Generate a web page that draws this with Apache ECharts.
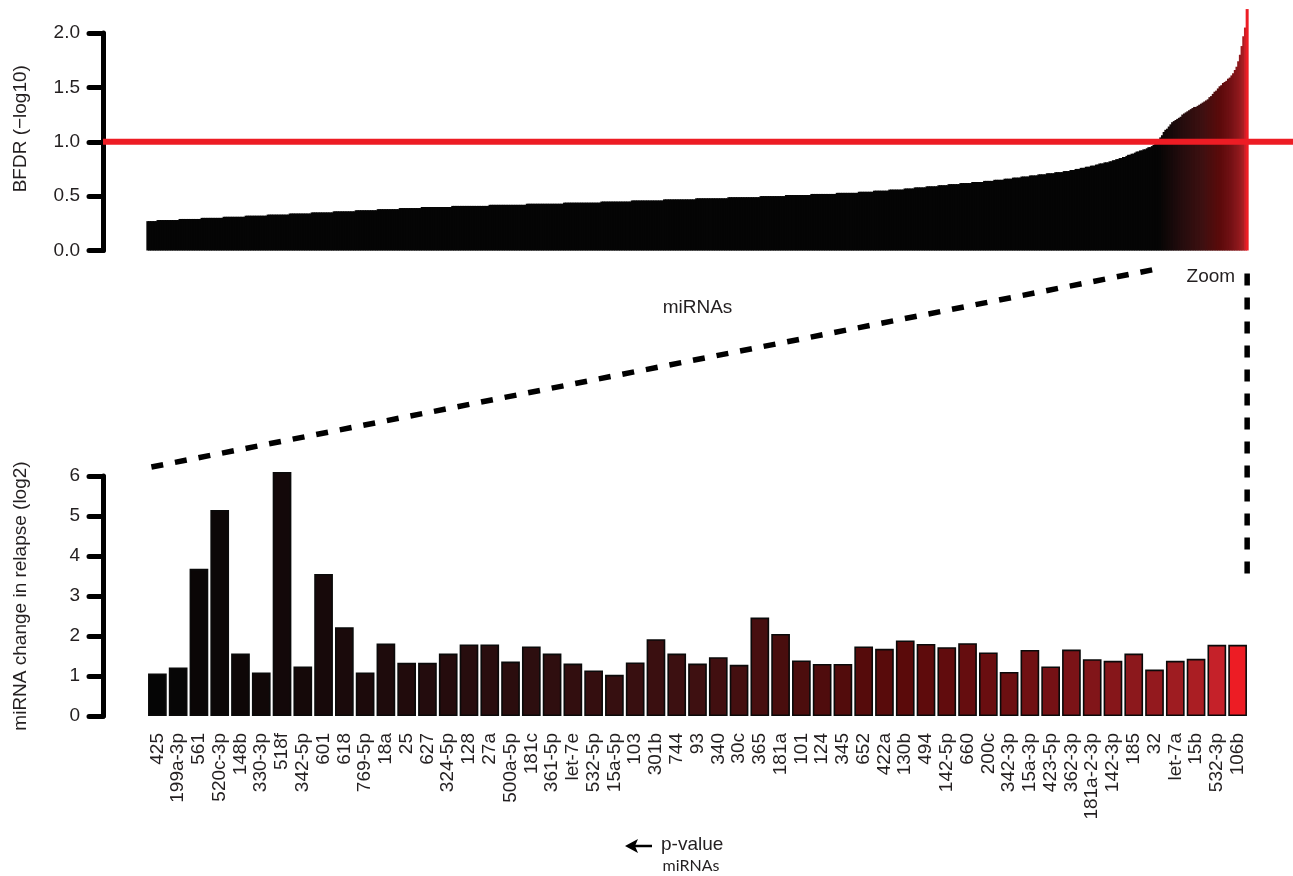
<!DOCTYPE html>
<html>
<head>
<meta charset="utf-8">
<script src="https://cdn.jsdelivr.net/npm/echarts@6/dist/echarts.min.js"></script>
<style>
  html, body { margin: 0; padding: 0; background: #fff; }
  #chart { width: 1293px; height: 876px; }
</style>
</head>
<body>
<div id="chart"></div>
<script>
// top panel: BFDR (-log10) of every miRNA, sorted ascending
const bfdrNotSig = [
  0.27,0.27,0.27,0.27,0.27,0.27,
  0.28,0.28,0.28,0.28,0.28,0.28,0.28,0.28,0.28,0.28,0.28,0.28,0.28,
  0.29,0.29,0.29,0.29,0.29,0.29,0.29,0.29,0.29,0.29,0.29,0.29,0.29,
  0.30,0.30,0.30,0.30,0.30,0.30,0.30,0.30,0.30,0.30,0.30,0.30,0.30,
  0.31,0.31,0.31,0.31,0.31,0.31,0.31,0.31,0.31,0.31,0.31,0.31,0.31,
  0.32,0.32,0.32,0.32,0.32,0.32,0.32,0.32,0.32,0.32,0.32,0.32,0.32,
  0.33,0.33,0.33,0.33,0.33,0.33,0.33,0.33,0.33,0.33,0.33,0.33,0.33,
  0.34,0.34,0.34,0.34,0.34,0.34,0.34,0.34,0.34,0.34,0.34,0.34,0.34,
  0.35,0.35,0.35,0.35,0.35,0.35,0.35,0.35,0.35,0.35,0.35,0.35,0.35,
  0.36,0.36,0.36,0.36,0.36,0.36,0.36,0.36,0.36,0.36,0.36,0.36,0.36,
  0.37,0.37,0.37,0.37,0.37,0.37,0.37,0.37,0.37,0.37,0.37,0.37,0.37,
  0.38,0.38,0.38,0.38,0.38,0.38,0.38,0.38,0.38,0.38,0.38,0.38,0.38,
  0.39,0.39,0.39,0.39,0.39,0.39,0.39,0.39,0.39,0.39,0.39,0.39,0.39,
  0.40,0.40,0.40,0.40,0.40,0.40,0.40,0.40,0.40,0.40,0.40,0.40,0.40,0.40,0.40,0.40,0.40,0.40,
  0.41,0.41,0.41,0.41,0.41,0.41,0.41,0.41,0.41,0.41,0.41,0.41,0.41,0.41,0.41,0.41,0.41,0.41,0.41,0.41,0.41,0.41,
  0.42,0.42,0.42,0.42,0.42,0.42,0.42,0.42,0.42,0.42,0.42,0.42,0.42,0.42,0.42,0.42,0.42,0.42,0.42,0.42,0.42,0.42,
  0.43,0.43,0.43,0.43,0.43,0.43,0.43,0.43,0.43,0.43,0.43,0.43,0.43,0.43,0.43,0.43,0.43,0.43,0.43,0.43,0.43,0.43,
  0.44,0.44,0.44,0.44,0.44,0.44,0.44,0.44,0.44,0.44,0.44,0.44,0.44,0.44,0.44,0.44,0.44,0.44,0.44,0.44,0.44,0.44,
  0.45,0.45,0.45,0.45,0.45,0.45,0.45,0.45,0.45,0.45,0.45,0.45,0.45,0.45,0.45,0.45,0.45,0.45,
  0.46,0.46,0.46,0.46,0.46,0.46,0.46,0.46,0.46,0.46,0.46,0.46,0.46,0.46,0.46,0.46,0.46,0.46,0.46,
  0.47,0.47,0.47,0.47,0.47,0.47,0.47,0.47,0.47,0.47,0.47,0.47,0.47,0.47,0.47,0.47,0.47,0.47,0.47,
  0.48,0.48,0.48,0.48,0.48,0.48,0.48,0.48,0.48,0.48,0.48,0.48,0.48,0.48,0.48,0.48,0.48,0.48,0.48,
  0.49,0.49,0.49,0.49,0.49,0.49,0.49,0.49,0.49,0.49,0.49,0.49,0.49,0.49,0.49,0.49,0.49,0.49,0.49,
  0.50,0.50,0.50,0.50,0.50,0.50,0.50,0.50,0.50,0.50,0.50,0.50,0.50,0.50,0.50,
  0.51,0.51,0.51,0.51,0.51,0.51,0.51,0.51,0.51,0.51,0.51,0.51,0.51,0.51,0.51,
  0.52,0.52,0.52,0.52,0.52,0.52,0.52,0.52,0.52,0.52,0.52,0.52,0.52,0.52,0.52,
  0.53,0.53,0.53,0.53,0.53,0.53,0.53,0.53,0.53,0.53,0.53,0.53,0.53,
  0.54,0.54,0.54,0.54,0.54,0.54,0.54,0.54,0.54,
  0.55,0.55,0.55,0.55,0.55,0.55,0.55,0.55,0.55,
  0.56,0.56,0.56,0.56,0.56,0.56,0.56,0.56,0.56,
  0.57,0.57,0.57,0.57,0.57,0.57,
  0.58,0.58,0.58,0.58,0.58,0.58,0.58,
  0.59,0.59,0.59,0.59,0.59,0.59,0.59,
  0.60,0.60,0.60,0.60,0.60,0.60,
  0.61,0.61,0.61,0.61,0.61,0.61,0.61,
  0.62,0.62,0.62,0.62,0.62,0.62,0.62,
  0.63,0.63,0.63,0.63,0.63,0.63,0.63,
  0.64,0.64,0.64,0.64,0.64,0.64,
  0.65,0.65,0.65,0.65,0.65,0.65,
  0.66,0.66,0.66,0.66,0.66,
  0.67,0.67,0.67,0.67,0.67,
  0.68,0.68,0.68,0.68,0.68,
  0.69,0.69,0.69,0.69,0.69,
  0.70,0.70,0.70,0.70,0.70,
  0.71,0.71,0.71,0.71,0.71,
  0.72,0.72,0.72,0.72,0.72,
  0.73,0.73,0.73,0.73,
  0.74,0.74,0.74,
  0.75,0.75,0.75,
  0.76,0.76,0.76,
  0.77,0.77,0.77,
  0.78,0.78,0.78,
  0.79,0.79,
  0.80,0.80,0.80,
  0.81,0.81,0.81,0.82,0.82,0.83,0.83,0.84,0.84,0.85,0.85,0.86,0.86,0.87,0.88,0.88,
  0.89,0.89,0.90,0.91,0.91,0.92,0.92,0.93,0.93,0.94,0.95,0.95,0.96,0.97,0.98,0.99
]
// the 53 miRNAs above the cut-off (same order as the zoomed panel)
const bfdrSig = [
  1.01,1.04,1.06,1.09,1.11,1.12,1.14,1.16,1.18,1.19,
  1.20,1.21,1.22,1.23,1.25,1.26,1.27,1.28,1.29,1.30,
  1.31,1.32,1.32,1.33,1.34,1.35,1.36,1.37,1.38,1.39,
  1.41,1.42,1.44,1.46,1.47,1.49,1.51,1.52,1.54,1.55,
  1.56,1.58,1.59,1.61,1.63,1.66,1.69,1.74,1.80,1.88,
  1.97,2.05,2.22
]
const bfdrCutoff = 1.0

// bottom panel: zoom on significant miRNAs
const mirnaNames = [
  '425','199a-3p','561','520c-3p','148b','330-3p','518f','342-5p','601','618',
  '769-5p','18a','25','627','324-5p','128','27a','500a-5p','181c','361-5p',
  'let-7e','532-5p','15a-5p','103','301b','744','93','340','30c','365',
  '181a','101','124','345','652','422a','130b','494','142-5p','660',
  '200c','342-3p','15a-3p','423-5p','362-3p','181a-2-3p','142-3p','185','32','let-7a',
  '15b','532-3p','106b'
]
const log2Change = [
  1.06,1.21,3.68,5.15,1.56,1.09,6.10,1.24,3.55,2.22,
  1.09,1.81,1.33,1.33,1.56,1.79,1.79,1.36,1.74,1.56,
  1.31,1.14,1.03,1.34,1.92,1.56,1.31,1.47,1.28,2.46,
  2.05,1.39,1.30,1.30,1.74,1.68,1.89,1.80,1.72,1.82,
  1.59,1.10,1.65,1.24,1.66,1.42,1.38,1.56,1.16,1.38,
  1.43,1.78,1.78
]

const font = '"Liberation Sans", Arial, Helvetica, sans-serif'
const ink = '#231f20'
const black = '#050505'

// black -> dark red -> red ramp along the significant miRNAs
const rampStops = [
  [0, [5, 5, 5]], [0.25, [35, 12, 13]], [0.5, [62, 16, 17]], [0.69, [90, 10, 10]],
  [0.81, [112, 16, 19]], [0.92, [145, 25, 30]], [0.96, [168, 30, 35]], [0.98, [195, 33, 41]],
  [1, [237, 28, 36]]
]
const rampColor = t => {
  for (let k = 1; k < rampStops.length; k++) {
    const [t0, c0] = rampStops[k - 1]
    const [t1, c1] = rampStops[k]
    if (t <= t1) {
      const f = (t - t0) / (t1 - t0)
      return 'rgb(' + c0.map((c, j) => Math.round(c + (c1[j] - c) * f)).join(',') + ')'
    }
  }
  return 'rgb(237,28,36)'
}
const sigColors = bfdrSig.map((_, i) => rampColor(i / (bfdrSig.length - 1)))

const topData = bfdrNotSig
  .map(v => ({ value: v, itemStyle: { color: black } }))
  .concat(bfdrSig.map((v, i) => ({ value: v, itemStyle: { color: sigColors[i] } })))
const topCats = topData.map((_, i) => String(i + 1))

const lowData = log2Change.map((v, i) => ({ value: v, itemStyle: { color: sigColors[i] } }))

const yAxisBase = {
  type: 'value',
  offset: 44,
  nameLocation: 'middle',
  nameGap: 73,
  nameTextStyle: { fontFamily: font, fontSize: 19, color: ink },
  axisLine: { show: true, lineStyle: { color: '#000', width: 5, cap: 'round' } },
  axisTick: { show: true, length: 14, lineStyle: { color: '#000', width: 5, cap: 'round' } },
  axisLabel: { fontFamily: font, fontSize: 19, color: ink, margin: 23 },
  splitLine: { show: false }
}

const chart = echarts.init(document.getElementById('chart'), null, { renderer: 'canvas' })

chart.setOption({
  animation: false,
  backgroundColor: '#fff',
  grid: [
    { left: 147, right: 45, top: 33, height: 217.5 },
    { left: 147, right: 45, top: 476, height: 240 }
  ],
  xAxis: [
    {
      type: 'category', gridIndex: 0, data: topCats,
      name: 'miRNAs', nameLocation: 'middle', nameGap: 48,
      nameTextStyle: { fontFamily: font, fontSize: 19, color: ink },
      axisLine: { show: false }, axisTick: { show: false }, axisLabel: { show: false }
    },
    {
      type: 'category', gridIndex: 1, data: mirnaNames,
      axisLine: { show: false }, axisTick: { show: false },
      axisLabel: { interval: 0, rotate: 90, margin: 17, fontFamily: font, fontSize: 19, color: ink }
    }
  ],
  yAxis: [
    Object.assign({}, yAxisBase, {
      gridIndex: 0, min: 0, max: 2, interval: 0.5,
      name: 'BFDR (\u2212log10)',
      nameTextStyle: Object.assign({}, yAxisBase.nameTextStyle, { padding: [0, 0, 0, 26] }),
      axisLabel: Object.assign({}, yAxisBase.axisLabel, { formatter: v => v.toFixed(1) })
    }),
    Object.assign({}, yAxisBase, {
      gridIndex: 1, min: 0, max: 6, interval: 1,
      name: 'miRNA change in relapse (log2)'
    })
  ],
  series: [
    {
      // bars a little wider than their band so neighbours overlap and leave no seams
      type: 'bar', xAxisIndex: 0, yAxisIndex: 0, data: topData,
      barWidth: 3, clip: false
    },
    {
      type: 'bar', xAxisIndex: 1, yAxisIndex: 1, data: lowData,
      barCategoryGap: '10%', clip: false,
      itemStyle: { borderColor: '#0a0a0a', borderWidth: 1.6 }
    }
  ]
})

// annotations placed from the axes' own scales
const cutY = chart.convertToPixel({ yAxisIndex: 0 }, bfdrCutoff)
const topBase = chart.convertToPixel({ yAxisIndex: 0 }, 0)
const zoomStartX = chart.convertToPixel({ xAxisIndex: 0 }, bfdrNotSig.length)
const zoomEndX = chart.convertToPixel({ xAxisIndex: 0 }, topData.length - 1)
const lowTop = chart.convertToPixel({ yAxisIndex: 1 }, 6)
const lowLeftX = chart.convertToPixel({ xAxisIndex: 1 }, 0) - 6
const dash = { stroke: '#000', lineWidth: 5.5, lineDash: [12, 12] }

chart.setOption({
  graphic: [
    { type: 'line', z: 100, shape: { x1: 103, y1: cutY, x2: 1293, y2: cutY },
      style: { stroke: '#ed1c24', lineWidth: 6 } },
    { type: 'line', z: 50, shape: { x1: lowLeftX, y1: lowTop - 9, x2: zoomStartX, y2: topBase + 18 }, style: dash },
    { type: 'line', z: 50, shape: { x1: zoomEndX, y1: topBase + 23, x2: zoomEndX, y2: 583 }, style: dash },
    { type: 'text', z: 50, x: zoomEndX - 12, y: 277,
      style: { text: 'Zoom', font: '19px ' + font, fill: ink, align: 'right', verticalAlign: 'middle' } },
    { type: 'line', z: 50, shape: { x1: 632, y1: 846, x2: 652, y2: 846 },
      style: { stroke: '#000', lineWidth: 2.5 } },
    { type: 'polygon', z: 50, shape: { points: [[625, 846], [638, 839], [635, 846], [638, 853]] },
      style: { fill: '#000' } },
    { type: 'text', z: 50, x: 661, y: 845,
      style: { text: 'p-value', font: '19px ' + font, fill: ink, align: 'left', verticalAlign: 'middle' } },
    { type: 'text', z: 50, x: 691, y: 866,
      style: { text: 'miRNAs', font: '16px Lato, "Open Sans", sans-serif', fill: ink, align: 'center', verticalAlign: 'middle' } }
  ]
})
</script>
</body>
</html>
